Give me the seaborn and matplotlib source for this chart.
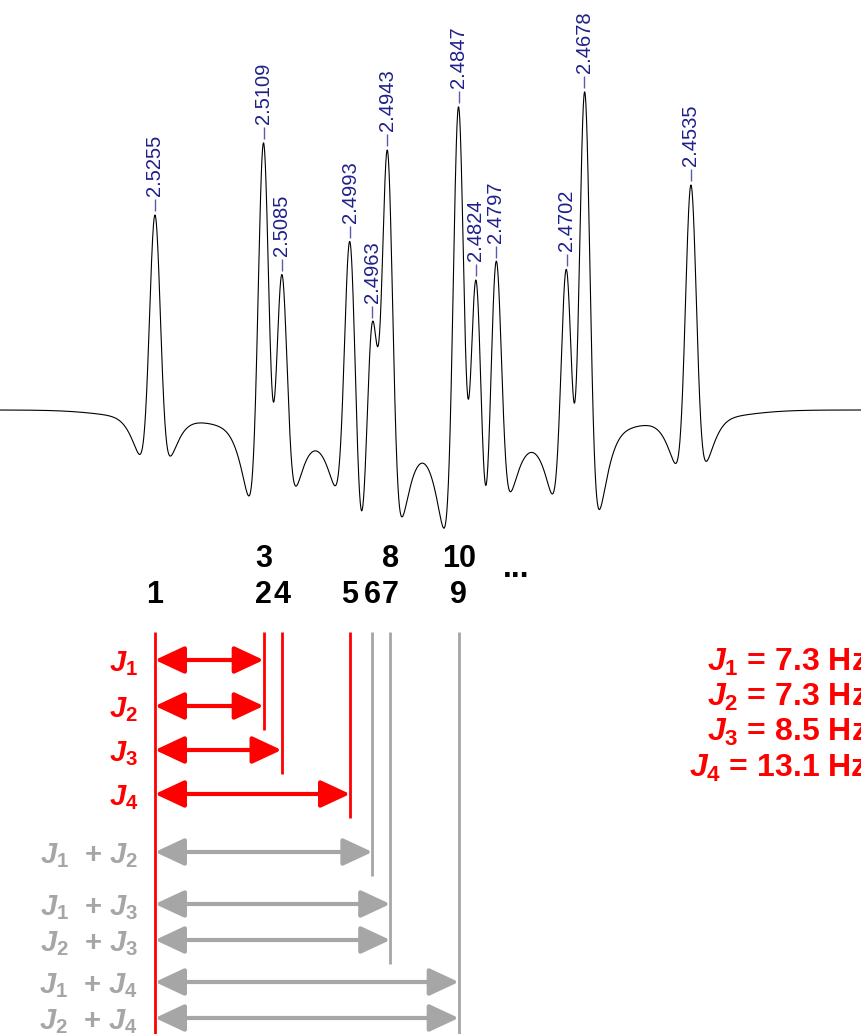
import numpy as np
import pandas as pd
import matplotlib
matplotlib.use("Agg")
import matplotlib.pyplot as plt
from matplotlib.patches import FancyArrowPatch
import seaborn as sns


# ---------------------------------------------------------------------------
# Data
# ---------------------------------------------------------------------------

# picked peaks (ppm) and the height of each top above the baseline
PEAK_PPM = [2.5255, 2.5109, 2.5085, 2.4993, 2.4963, 2.4943,
            2.4847, 2.4824, 2.4797, 2.4702, 2.4678, 2.4535]
PEAK_TOP = [195, 267, 135, 168, 88, 260, 303, 130, 148, 140, 318, 225]

# coupling constants
J_HZ = [7.3, 7.3, 8.5, 13.1]
SPEC_MHZ = 500.0

# the numbered lines of the multiplet, as sums of couplings from line 1
LINE_TERMS = [[], [0], [1], [2], [3], [0, 1], [0, 2], [1, 2], [0, 3], [1, 3]]

# resolution-enhanced line shape (widths in Hz)
S1, S2, S3 = 0.37, 1.0, 3.0
C2, C3 = 0.36, 0.045

X_LEFT, X_RIGHT = 2.54632, 2.43052
W_PX, H_PX = 862, 1034

RED = "#ff0000"
GRAY = "#a6a6a6"
BLUE = "#20208a"
FONT = "Liberation Sans"

# layout of the splitting tree (pixel rows)
ROW_Y = [660, 706, 750, 794, 852, 904, 940, 982, 1018]
VAL_Y = [662, 697, 732, 768]


def px_to_ppm(px):
    return X_LEFT - px / W_PX * (X_LEFT - X_RIGHT)


def shape(d_hz):
    g = lambda s: np.exp(-0.5 * (d_hz / s) ** 2)
    return (1 + C2 + C3) * g(S1) - C2 * g(S2) - C3 * g(S3)


# ---------------------------------------------------------------------------
# Spectrum
# ---------------------------------------------------------------------------

sns.set_theme(style="white")
plt.rcParams["font.family"] = [FONT, "DejaVu Sans"]
plt.rcParams["mathtext.fontset"] = "custom"
plt.rcParams["mathtext.it"] = FONT + ":italic:bold"
plt.rcParams["mathtext.rm"] = FONT + ":bold"
plt.rcParams["mathtext.bf"] = FONT + ":bold"

ppm = np.array(PEAK_PPM)
tops = np.array(PEAK_TOP, dtype=float)
mix = shape((ppm[:, None] - ppm[None, :]) * SPEC_MHZ)
amps = np.linalg.solve(mix, tops)

grid = np.linspace(X_LEFT, X_RIGHT, 4000)
spec = shape((grid[:, None] - ppm[None, :]) * SPEC_MHZ) @ amps
df = pd.DataFrame({"ppm": grid, "intensity": spec})

fig = plt.figure(figsize=(W_PX / 100, H_PX / 100), dpi=100)
ax = fig.add_axes([0, 0, 1, 1])
sns.lineplot(data=df, x="ppm", y="intensity", ax=ax, color="black",
             linewidth=0.8, sort=False)
ax.set_xlim(X_LEFT, X_RIGHT)
ax.set_ylim(-(H_PX - 410), 410)
ax.axis("off")

ax.vlines(ppm, tops + 4, tops + 16, color="#5a5ab0", lw=1)
for p, t in zip(PEAK_PPM, PEAK_TOP):
    ax.text(p, t + 19, f"{p:.4f}", rotation=90, ha="center", va="bottom",
            fontsize=14.5, color=BLUE)

# ---------------------------------------------------------------------------
# Splitting tree
# ---------------------------------------------------------------------------

tree = fig.add_axes([0, 0, 1, 1])
tree.patch.set_visible(False)
tree.set_xlim(X_LEFT, X_RIGHT)
tree.set_ylim(H_PX, 0)
tree.axis("off")

origin = PEAK_PPM[0]
offsets = [round(sum(J_HZ[k] for k in terms), 3) for terms in LINE_TERMS]
line_x = [origin - o / SPEC_MHZ for o in offsets]

# numbered lines, stacked where lines coincide
seen = {}
for num, (o, x) in enumerate(zip(offsets, line_x), start=1):
    level = seen.get(o, 0)
    seen[o] = level + 1
    tree.text(x, 603 - 36 * level, str(num), ha="center", va="baseline",
              fontsize=22, fontweight="bold", color="black")
tree.text(px_to_ppm(516), 577, "...", ha="center", va="baseline",
          fontsize=23, fontweight="bold", color="black")

# vertical lines
rows = LINE_TERMS[1:]
for o in sorted(set(offsets)):
    x = origin - o / SPEC_MHZ
    reach = [y for terms, y in zip(rows, ROW_Y)
             if round(sum(J_HZ[k] for k in terms), 3) == o]
    single = o == 0 or any(len(t) == 1 and round(J_HZ[t[0]], 3) == o for t in rows)
    bottom = H_PX + 5 if (o == 0 or max(reach) >= ROW_Y[-1] - 40) else max(reach) + 24
    tree.vlines(x, 632, bottom, color=RED if single else GRAY, lw=2, zorder=3 if single else 2)

# arrows and their labels
for terms, y in zip(rows, ROW_Y):
    col = RED if len(terms) == 1 else GRAY
    x_end = origin - sum(J_HZ[k] for k in terms) / SPEC_MHZ
    arr = FancyArrowPatch((origin, y), (x_end, y),
                          arrowstyle="<|-|>,head_length=0.9,head_width=0.42",
                          mutation_scale=20, lw=3, color=col,
                          shrinkA=0, shrinkB=0, zorder=4)
    tree.add_patch(arr)
    label = "  + ".join(f"$J_{k + 1}$" for k in terms)
    tree.text(px_to_ppm(138), y + 4, label, ha="right", va="center",
              fontsize=21, fontweight="bold", color=col)

# coupling values on the right
for k, (hz, y) in enumerate(zip(J_HZ, VAL_Y)):
    tree.text(px_to_ppm(868), y, f"$J_{k + 1}$ = {hz:.1f} Hz", ha="right",
              va="center", fontsize=23, fontweight="bold", color=RED)

fig.savefig("out.png", dpi=100)
